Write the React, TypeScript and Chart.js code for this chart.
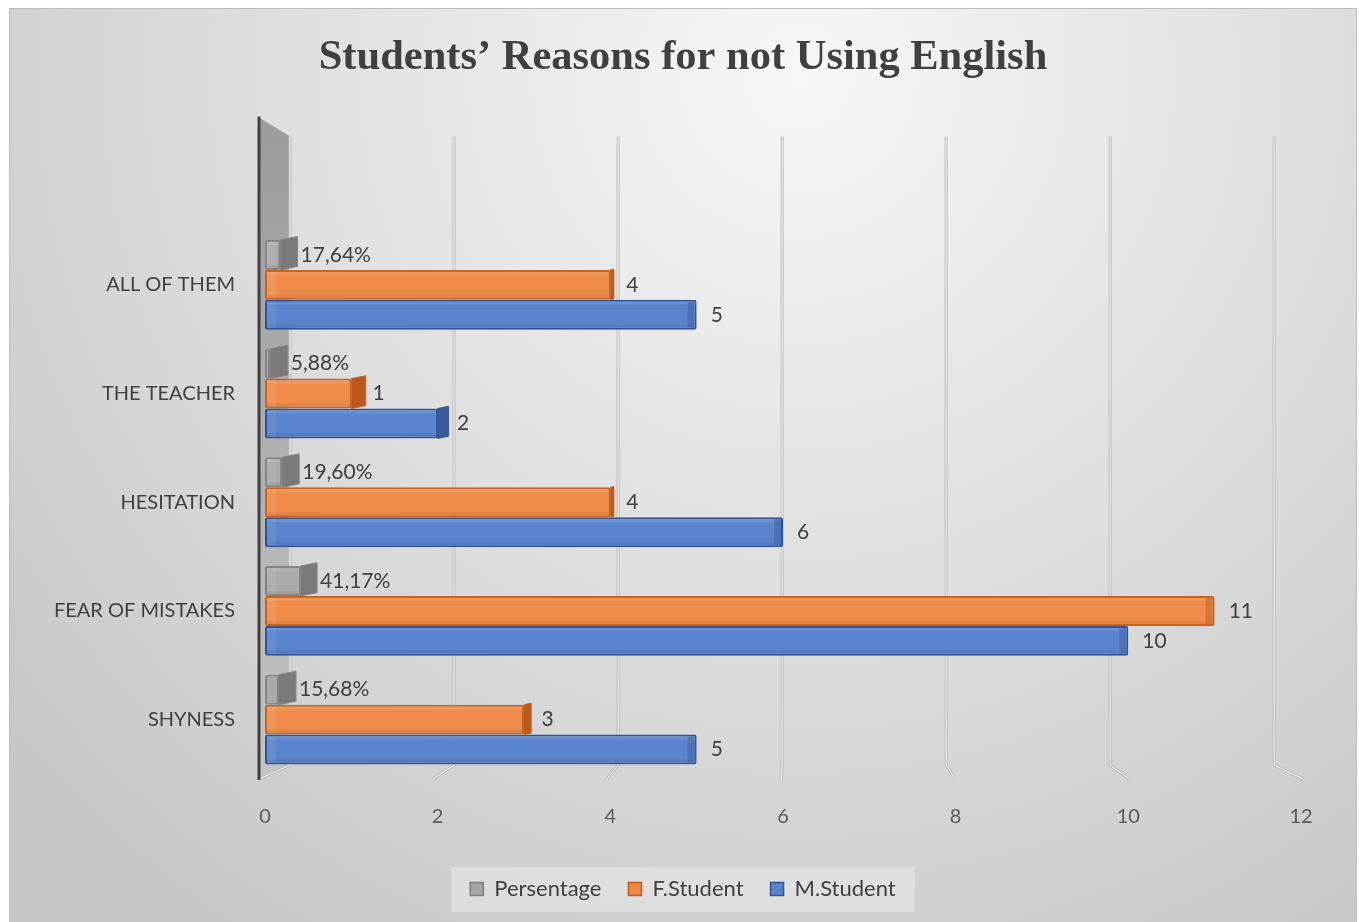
import React, { useEffect, useRef } from "react";
import { Chart, registerables } from "chart.js";

Chart.register(...registerables);

// ---- data ----
const categories = ["ALL OF THEM", "THE TEACHER", "HESITATION", "FEAR OF MISTAKES", "SHYNESS"];
const seriesNames = ["Persentage", "F.Student", "M.Student"];
const percentageValues = [17.64, 5.88, 19.6, 41.17, 15.68];
const femaleValues = [4, 1, 4, 11, 3];
const maleValues = [5, 2, 6, 10, 5];
const xMin = 0;
const xMax = 12;
const xStep = 2;
const chartTitle = "Students\u2019 Reasons for not Using English";

// ---- styles ----
const SANS = "Lato, 'Open Sans', sans-serif";
const SERIF = "'Liberation Serif', 'Times New Roman', serif";
const fills = ["#aaaaaa", "#ef8c4c", "#5a83cd"];
const borders = ["#858585", "#c9631f", "#2f5597"];
const ends = ["#7a7a7a", "#b95a1c", "#3b5c9c"];
const legendFills = ["#a5a5a5", "#ee8a4a", "#5a83cd"];
const legendStrokes = ["#7f7f7f", "#c55a11", "#2f5597"];

const fmtPct = (p: number) => p.toFixed(2).replace(".", ",") + "%";

const decoPlugin = {
  id: "deco",
  beforeDraw(chart: any) {
    const { ctx, width, height } = chart;
    ctx.save();
    const g = ctx.createRadialGradient(790, 70, 0, 790, 70, 1050);
    g.addColorStop(0, "#f7f7f7");
    g.addColorStop(1, "#c6c6c6");
    ctx.fillStyle = g;
    ctx.fillRect(0, 0, width, height);
    ctx.strokeStyle = "#bdbdbd";
    ctx.lineWidth = 1;
    ctx.strokeRect(0.5, 0.5, width - 1, height + 5);
    const lg = chart.legend;
    if (lg && lg.legendHitBoxes && lg.legendHitBoxes.length) {
      const hb = lg.legendHitBoxes;
      const first = hb[0];
      const last = hb[hb.length - 1];
      const cy = first.top + first.height / 2;
      const l = first.left - 19;
      const r = last.left + last.width + 19;
      ctx.fillStyle = "rgba(255,255,255,0.3)";
      ctx.fillRect(l, cy - 22, r - l, 45);
    }
    ctx.restore();
  },
  beforeDatasetsDraw(chart: any) {
    const { ctx, chartArea: a, scales } = chart;
    const x = scales.x;
    ctx.save();
    const wl = a.left - 6;
    const wr = a.left + 25;
    const wg = ctx.createLinearGradient(0, a.top - 112, 0, a.bottom);
    wg.addColorStop(0, "#9b9b9b");
    wg.addColorStop(1, "#c4c4c4");
    ctx.fillStyle = wg;
    ctx.beginPath();
    ctx.moveTo(wl, a.top - 113);
    ctx.lineTo(wr, a.top - 94);
    ctx.lineTo(wr, a.bottom - 9);
    ctx.lineTo(wl, a.bottom + 5);
    ctx.closePath();
    ctx.fill();
    x.ticks.forEach((t: any) => {
      const fx = x.getPixelForValue(t.value);
      const bx = a.left + 25 + 0.95 * (fx - a.left);
      const ex = a.left - 6 + 1.008 * (fx - a.left);
      const path = () => {
        ctx.beginPath();
        ctx.moveTo(bx, a.top - 94);
        ctx.lineTo(bx, a.bottom - 9);
        ctx.lineTo(ex, a.bottom + 5);
      };
      ctx.lineJoin = "round";
      path();
      ctx.strokeStyle = "#bababa";
      ctx.lineWidth = 3;
      ctx.stroke();
      path();
      ctx.strokeStyle = "#f6f6f6";
      ctx.lineWidth = 1;
      ctx.stroke();
    });
    ctx.strokeStyle = "#404040";
    ctx.lineWidth = 3;
    ctx.beginPath();
    ctx.moveTo(wl, a.top - 114);
    ctx.lineTo(wl, a.bottom + 6);
    ctx.stroke();
    ctx.restore();
  },
  afterDatasetsDraw(chart: any) {
    const { ctx, chartArea: a } = chart;
    ctx.save();
    chart.data.datasets.forEach((ds: any, di: number) => {
      const meta = chart.getDatasetMeta(di);
      meta.data.forEach((el: any, i: number) => {
        const { x, y, base, height } = el.getProps(["x", "y", "base", "height"], true);
        const top = y - height / 2;
        const bottom = y + height / 2;
        // inner bevel
        if (x - base > 14) {
          ctx.fillStyle = "rgba(0,0,0,0.07)";
          ctx.fillRect(base + 2, bottom - 5, x - base - 4, 3);
          ctx.fillStyle = "rgba(255,255,255,0.10)";
          ctx.fillRect(base + 2, top + 2, x - base - 4, 3);
          ctx.fillStyle = "rgba(255,255,255,0.07)";
          ctx.fillRect(base + 2, top + 2, 9, height - 4);
        }
        const w = Math.max(0, 18 - ((x - a.left) * 18) / 431.5);
        if (w > 0.5) {
          const s = w * 0.2;
          ctx.fillStyle = ends[di];
          ctx.beginPath();
          ctx.moveTo(x, top);
          ctx.lineTo(x + w, top - s);
          ctx.lineTo(x + w, bottom - s);
          ctx.lineTo(x, bottom);
          ctx.closePath();
          ctx.fill();
          ctx.strokeStyle = borders[di];
          ctx.lineWidth = 1;
          ctx.stroke();
        } else {
          ctx.fillStyle = ends[di];
          ctx.globalAlpha = 0.45;
          ctx.fillRect(x - 9, top + 2, 7, height - 4);
          ctx.globalAlpha = 1;
        }
        ctx.fillStyle = "#404040";
        ctx.font = "21px " + SANS;
        ctx.textBaseline = "middle";
        ctx.textAlign = "left";
        let text: string;
        let lx: number;
        if (di === 0) {
          text = fmtPct(percentageValues[i]);
          lx = x + w + 3;
        } else {
          text = String(ds.data[i]);
          lx = x + w + 14 - w * 0.5;
        }
        ctx.fillText(text, lx, y);
      });
    });
    ctx.restore();
  },
};

export default function App() {
  const ref = useRef<HTMLCanvasElement | null>(null);
  useEffect(() => {
    document.body.style.overflow = "hidden";
    const canvas = ref.current;
    if (!canvas) return;
    const chart = new Chart(canvas, {
      type: "bar",
      data: {
        labels: categories,
        datasets: [
          { label: seriesNames[0], data: percentageValues.map((p) => p / 100) },
          { label: seriesNames[1], data: femaleValues },
          { label: seriesNames[2], data: maleValues },
        ].map((d, i) => ({
          ...d,
          backgroundColor: fills[i],
          borderColor: borders[i],
          borderWidth: 2,
          borderRadius: 2,
          borderSkipped: false,
          barPercentage: 1,
          categoryPercentage: 0.826,
        })),
      },
      options: {
        indexAxis: "y",
        responsive: false,
        animation: false,
        devicePixelRatio: 1,
        layout: { padding: { left: 0, right: 0, top: 0, bottom: 12 } },
        scales: {
          x: {
            min: xMin,
            max: xMax,
            ticks: { stepSize: xStep, padding: 31, color: "#595959", font: { family: SANS, size: 20 } },
            grid: { display: false, drawTicks: false },
            border: { display: false },
            afterFit: (s: any) => {
              s.height = 77;
            },
          },
          y: {
            ticks: { padding: 30, color: "#404040", font: { family: SANS, size: 20 } },
            grid: { display: false, drawTicks: false },
            border: { display: false },
            afterFit: (s: any) => {
              s.width = 256;
            },
          },
          yRight: {
            type: "category",
            position: "right",
            display: true,
            ticks: { display: false },
            grid: { display: false, drawTicks: false },
            border: { display: false },
            afterFit: (s: any) => {
              s.width = 56;
            },
          },
        },
        plugins: {
          title: {
            display: true,
            text: chartTitle,
            color: "#404040",
            font: { family: SERIF, size: 42.5, weight: "bold" },
            padding: { top: 24.5, bottom: 147 },
          },
          legend: {
            position: "bottom",
            labels: {
              boxWidth: 13,
              boxHeight: 13,
              padding: 27,
              color: "#404040",
              font: { family: SANS, size: 22 },
              generateLabels: () =>
                seriesNames.map((n, i) => ({
                  text: n,
                  fillStyle: legendFills[i],
                  strokeStyle: legendStrokes[i],
                  lineWidth: 1.5,
                  hidden: false,
                  datasetIndex: i,
                  fontColor: "#404040",
                })),
            },
          },
          tooltip: { enabled: false },
        },
      },
      plugins: [decoPlugin],
    } as any);
    return () => chart.destroy();
  }, []);
  return (
    <div style={{ position: "fixed", left: 9, top: 8, width: 1348, height: 914 }}>
      <canvas ref={ref} width={1348} height={914} style={{ display: "block", width: 1348, height: 914 }} />
    </div>
  );
}
